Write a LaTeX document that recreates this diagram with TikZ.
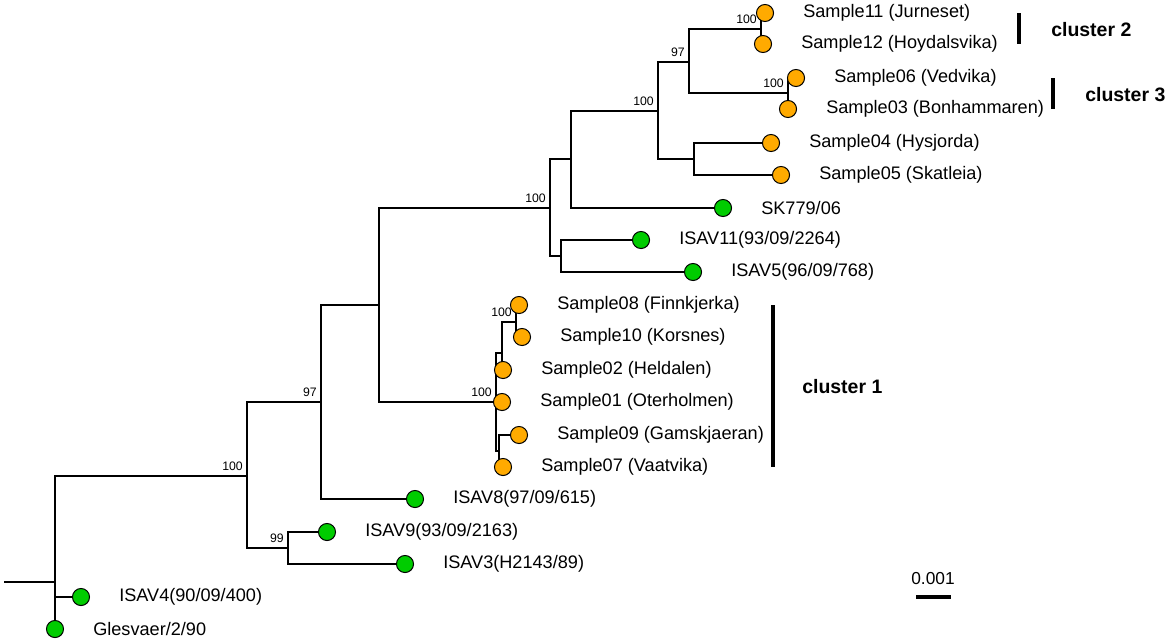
\documentclass[tikz,border=0pt]{standalone}
\usepackage{fontspec}
\setmainfont{Liberation Sans}
\definecolor{leaforange}{RGB}{255,170,0}
\definecolor{leafgreen}{RGB}{0,204,0}
\pgfdeclarelayer{background}
\pgfsetlayers{background,main}
\begin{document}
\begin{tikzpicture}[x=0.75pt,y=-0.75pt,
  branch/.style={line width=1.4pt, line join=miter},
  tipo/.style={circle, draw=black, line width=0.75pt, fill=leaforange, minimum size=12.8pt, inner sep=0pt},
  tipg/.style={circle, draw=black, line width=0.75pt, fill=leafgreen, minimum size=12.8pt, inner sep=0pt},
  lbl/.style={anchor=west, inner sep=0pt, font=\fontsize{13.6}{16}\selectfont},
  sup/.style={anchor=south east, inner sep=0pt, xshift=-3pt, yshift=3.5pt, font=\fontsize{9.2}{10}\selectfont},
  clbar/.style={line width=2.4pt},
  cltext/.style={anchor=west, inner sep=0pt, font=\fontsize{14.6}{17}\selectfont\bfseries}
]
\useasboundingbox (0,0) rectangle (1169,643);

% leaves
\newcommand{\tiplf}[5]{%
  \node[#3] (#1) at (#2) {};
  \node[lbl] (#1-t) at ([xshift=#4]#1.center) {#5};}
\tiplf{S11}{765,13}{tipo}{28.5pt}{Sample11 (Jurneset)}
\tiplf{S12}{763,44}{tipo}{28.5pt}{Sample12 (Hoydalsvika)}
\tiplf{S06}{796,78}{tipo}{28.5pt}{Sample06 (Vedvika)}
\tiplf{S03}{788,109}{tipo}{28.5pt}{Sample03 (Bonhammaren)}
\tiplf{S04}{771,143}{tipo}{28.5pt}{Sample04 (Hysjorda)}
\tiplf{S05}{781,175}{tipo}{28.5pt}{Sample05 (Skatleia)}
\tiplf{SK}{723,208}{tipg}{28.5pt}{SK779/06}
\tiplf{I11}{641,240}{tipg}{28.5pt}{ISAV11(93/09/2264)}
\tiplf{I5}{693,272}{tipg}{28.5pt}{ISAV5(96/09/768)}
\tiplf{S08}{519,305}{tipo}{28.5pt}{Sample08 (Finnkjerka)}
\tiplf{S10}{522,337}{tipo}{28.5pt}{Sample10 (Korsnes)}
\tiplf{S02}{503,370}{tipo}{28.5pt}{Sample02 (Heldalen)}
\tiplf{S01}{502,402}{tipo}{28.5pt}{Sample01 (Oterholmen)}
\tiplf{S09}{519,435}{tipo}{28.5pt}{Sample09 (Gamskjaeran)}
\tiplf{S07}{503,467}{tipo}{28.5pt}{Sample07 (Vaatvika)}
\tiplf{I8}{415,499}{tipg}{28.5pt}{ISAV8(97/09/615)}
\tiplf{I9}{327,532}{tipg}{28.5pt}{ISAV9(93/09/2163)}
\tiplf{I3}{405,564}{tipg}{28.5pt}{ISAV3(H2143/89)}
\tiplf{I4}{81,597}{tipg}{28.5pt}{ISAV4(90/09/400)}
\tiplf{GL}{55,629}{tipg}{28.5pt}{Glesvaer/2/90}

% internal nodes
\coordinate (root0) at (4,582);
\coordinate (R) at (55,582);
\coordinate (N1) at (247,476);
\coordinate (N99) at (288,548);
\coordinate (N97) at (321,402);
\coordinate (N2) at (379,305);
\coordinate (N3) at (550,208);
\coordinate (N5) at (561,256);
\coordinate (N4) at (571,159);
\coordinate (N6) at (658,111);
\coordinate (N7) at (689,62);
\coordinate (N8) at (694,159);
\coordinate (N9) at (761,29);
\coordinate (N10) at (788,93);
\coordinate (Nc1) at (496,402);
\coordinate (NB) at (502,353);
\coordinate (ND) at (516,322);
\coordinate (NC) at (499,451);

\begin{pgfonlayer}{background}
\draw[branch] (root0) -- (R);
\draw[branch] (R) |- (N1);
\draw[branch] (R) |- (I4.center);
\draw[branch] (R) -- (GL.center);
\draw[branch] (N1) |- (N97);
\draw[branch] (N1) |- (N99);
\draw[branch] (N99) |- (I9.center);
\draw[branch] (N99) |- (I3.center);
\draw[branch] (N97) |- (N2);
\draw[branch] (N97) |- (I8.center);
\draw[branch] (N2) |- (N3);
\draw[branch] (N2) |- (Nc1);
\draw[branch] (N3) |- (N4);
\draw[branch] (N3) |- (N5);
\draw[branch] (N5) |- (I11.center);
\draw[branch] (N5) |- (I5.center);
\draw[branch] (N4) |- (N6);
\draw[branch] (N4) |- (SK.center);
\draw[branch] (N6) |- (N7);
\draw[branch] (N6) |- (N8);
\draw[branch] (N7) |- (N9);
\draw[branch] (N7) |- (N10);
\draw[branch] (N9) |- (S11.center);
\draw[branch] (N9) |- (S12.center);
\draw[branch] (N10) |- (S06.center);
\draw[branch] (N10) |- (S03.center);
\draw[branch] (N8) |- (S04.center);
\draw[branch] (N8) |- (S05.center);
\draw[branch] (Nc1) |- (NB);
\draw[branch] (Nc1) |- (S01.center);
\draw[branch] (Nc1) |- (NC);
\draw[branch] (NB) |- (ND);
\draw[branch] (NB) |- (S02.center);
\draw[branch] (ND) |- (S08.center);
\draw[branch] (ND) |- (S10.center);
\draw[branch] (NC) |- (S09.center);
\draw[branch] (NC) |- (S07.center);
\end{pgfonlayer}

% support values
\node[sup] (b1) at (N1) {100};
\node[sup] (b2) at (N97) {97};
\node[sup] (b3) at (N99) {99};
\node[sup] (b4) at (N3) {100};
\node[sup] (b5) at (N6) {100};
\node[sup] (b6) at (N7) {97};
\node[sup] (b7) at (N9) {100};
\node[sup] (b8) at (N10) {100};
\node[sup] (b9) at (Nc1) {100};
\node[sup] (b10) at (ND) {100};

% cluster bars
\coordinate (c2a) at (1019,13); \coordinate (c2b) at (1019,44);
\coordinate (c3a) at (1053,78); \coordinate (c3b) at (1053,109);
\coordinate (c1a) at (773,305); \coordinate (c1b) at (773,467);
\draw[clbar] (c2a) -- (c2b);
\draw[clbar] (c3a) -- (c3b);
\draw[clbar] (c1a) -- (c1b);
\node[cltext] (cl2) at (1051,30) {cluster 2};
\node[cltext] (cl3) at (1085,95) {cluster 3};
\node[cltext] (cl1) at (802,387) {cluster 1};

% scale bar
\coordinate (sa) at (916,597); \coordinate (sb) at (951,597);
\draw[clbar] (sa) -- (sb);
\node[inner sep=0pt, font=\fontsize{13}{15}\selectfont] (sl) at (933,579) {0.001};
\end{tikzpicture}
\end{document}
